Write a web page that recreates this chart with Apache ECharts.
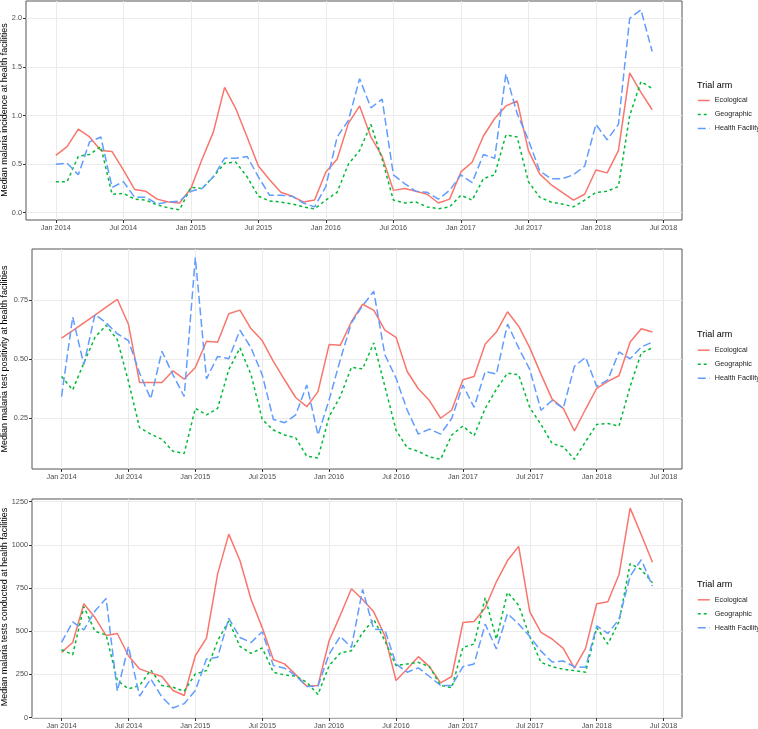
<!DOCTYPE html>
<html><head><meta charset="utf-8">
<script src="https://cdn.jsdelivr.net/npm/echarts@6/dist/echarts.min.js"></script>
<style>html,body{margin:0;padding:0;background:#fff}#c{width:758px;height:729px}</style>
</head><body><div id="c"></div>
<script>
// ---- data ----
const months = ['2014-01','2014-02','2014-03','2014-04','2014-05','2014-06','2014-07','2014-08','2014-09','2014-10','2014-11','2014-12',
  '2015-01','2015-02','2015-03','2015-04','2015-05','2015-06','2015-07','2015-08','2015-09','2015-10','2015-11','2015-12',
  '2016-01','2016-02','2016-03','2016-04','2016-05','2016-06','2016-07','2016-08','2016-09','2016-10','2016-11','2016-12',
  '2017-01','2017-02','2017-03','2017-04','2017-05','2017-06','2017-07','2017-08','2017-09','2017-10','2017-11','2017-12',
  '2018-01','2018-02','2018-03','2018-04','2018-05','2018-06'];
const xTickLabels = ['Jan 2014','Jul 2014','Jan 2015','Jul 2015','Jan 2016','Jul 2016','Jan 2017','Jul 2017','Jan 2018','Jul 2018'];
const arms = ['Ecological','Geographic','Health Facility'];
const yTitles = ['Median malaria incidence at health facilities',
                 'Median malaria test positivity at health facilities',
                 'Median malaria tests conducted at health facilities'];

const incidenceEcological = [0.59,0.68,0.86,0.78,0.64,0.63,0.44,0.24,0.22,0.14,0.11,0.10,0.25,0.55,0.83,1.29,1.07,0.78,0.48,0.34,0.21,0.17,0.11,0.13,0.42,0.55,0.92,1.10,0.78,0.58,0.23,0.25,0.22,0.19,0.10,0.14,0.42,0.52,0.79,0.97,1.10,1.15,0.64,0.40,0.29,0.21,0.13,0.19,0.44,0.41,0.64,1.44,1.24,1.06];
const incidenceGeographic = [0.32,0.32,0.58,0.60,0.68,0.19,0.20,0.14,0.13,0.08,0.05,0.03,0.26,0.25,0.37,0.51,0.52,0.37,0.17,0.12,0.11,0.09,0.06,0.04,0.13,0.21,0.50,0.64,0.91,0.55,0.13,0.10,0.11,0.06,0.04,0.06,0.18,0.13,0.35,0.39,0.80,0.78,0.32,0.16,0.11,0.09,0.06,0.13,0.21,0.22,0.27,1.00,1.35,1.28];
const incidenceHealthFacility = [0.50,0.51,0.39,0.73,0.78,0.26,0.32,0.16,0.16,0.09,0.11,0.12,0.22,0.25,0.37,0.56,0.56,0.58,0.37,0.18,0.18,0.17,0.10,0.06,0.27,0.78,0.95,1.38,1.08,1.17,0.39,0.30,0.22,0.21,0.14,0.23,0.39,0.31,0.60,0.56,1.43,1.02,0.75,0.43,0.35,0.35,0.39,0.48,0.91,0.75,0.91,2.00,2.09,1.66];

const positivityEcological = [0.588,0.62,0.653,0.686,0.72,0.753,0.647,0.40,0.40,0.40,0.45,0.415,0.464,0.575,0.571,0.692,0.707,0.628,0.578,0.49,0.412,0.337,0.298,0.362,0.561,0.558,0.658,0.732,0.707,0.622,0.592,0.447,0.374,0.324,0.249,0.284,0.412,0.426,0.564,0.614,0.70,0.639,0.547,0.436,0.33,0.291,0.195,0.287,0.376,0.405,0.429,0.572,0.628,0.614];
const positivityGeographic = [0.426,0.369,0.483,0.592,0.643,0.582,0.405,0.209,0.182,0.16,0.109,0.10,0.291,0.263,0.291,0.455,0.547,0.433,0.244,0.199,0.178,0.166,0.088,0.081,0.256,0.341,0.465,0.458,0.568,0.384,0.199,0.124,0.109,0.085,0.075,0.178,0.216,0.175,0.291,0.372,0.44,0.433,0.294,0.223,0.142,0.128,0.075,0.15,0.223,0.227,0.216,0.384,0.526,0.547];
const positivityHealthFacility = [0.341,0.678,0.476,0.689,0.653,0.607,0.578,0.44,0.331,0.533,0.433,0.341,0.93,0.416,0.511,0.501,0.622,0.547,0.433,0.244,0.23,0.263,0.39,0.178,0.327,0.497,0.653,0.726,0.787,0.518,0.419,0.284,0.182,0.203,0.182,0.249,0.39,0.295,0.447,0.436,0.648,0.547,0.455,0.283,0.324,0.291,0.469,0.507,0.384,0.412,0.53,0.501,0.551,0.572];

const testsEcological = [378,435,659,579,475,487,358,282,259,238,157,128,358,460,832,1062,909,684,521,335,311,249,182,186,445,592,746,684,612,473,215,282,353,295,201,238,550,556,636,786,909,991,612,493,455,401,286,401,659,671,828,1212,1058,899];
const testsGeographic = [393,364,642,500,478,215,167,186,276,186,176,153,253,272,445,560,412,372,403,263,247,240,205,134,301,374,387,490,569,445,301,311,320,295,186,173,406,426,694,454,725,650,468,320,295,280,272,263,521,426,556,891,857,780];
const testsHealthFacility = [435,554,508,617,690,153,412,125,224,119,56,81,157,339,349,575,464,435,497,301,286,243,180,182,368,470,406,742,512,508,311,263,288,238,186,186,295,311,541,397,602,541,470,385,322,328,295,291,531,487,569,819,914,761];

const yTicks = [[0,0.5,1,1.5,2],[0.25,0.5,0.75],[0,250,500,750,1000,1250]];
const yMinor = [[0.25,0.75,1.25,1.75],[0.125,0.375,0.625,0.875],[125,375,625,875,1125]];
const yDecimals = [1,2,0];

// ---- styling / layout ----
const FONT = '"Liberation Sans", Arial, sans-serif';
const colors = ['#F8766D','#00BA38','#619CFF'];
const dashes = ['solid',[3,3],[8,3.5]];
const grids = [
  {left:26, top:1, width:656, height:219},
  {left:32, top:249, width:650, height:220},
  {left:32, top:499, width:650, height:220}
];
const yRanges = [[-0.075,2.18],[0.034,0.966],[-2,1265]];
const xRange = [-2.65, 55.65];
const legendTop = [97, 346.7, 596.3];
const legendTitleY = [86.7, 336, 586];
const yTitleY = [110, 359, 607];

const xTickPos = xTickLabels.map(l => {
  const p = l.split(' ');
  return (parseInt(p[1]) - 2014) * 12 + (p[0] === 'Jul' ? 6 : 0);
});
const xMinorPos = xTickPos.slice(0, -1).map(v => v + 3);

const panels = [
  [incidenceEcological, incidenceGeographic, incidenceHealthFacility],
  [positivityEcological, positivityGeographic, positivityHealthFacility],
  [testsEcological, testsGeographic, testsHealthFacility]
];

const xAxes = [], yAxes = [], series = [], legends = [], graphics = [];
grids.forEach((g, p) => {
  xAxes.push({
    type:'value', gridIndex:p, min:xRange[0], max:xRange[1], position:'bottom',
    axisLine:{show:false, onZero:false},
    axisTick:{show:true, length:3, customValues:xTickPos, lineStyle:{color:'#333', width:1}},
    axisLabel:{show:true, customValues:xTickPos, margin:4, fontSize:7.3, color:'#4d4d4d', fontFamily:FONT,
      formatter: v => xTickLabels[xTickPos.indexOf(Math.round(v))] || ''},
    splitLine:{show:true, lineStyle:{color:'#ebebeb', width:1}}
  });
  xAxes.push({
    type:'value', gridIndex:p, min:xRange[0], max:xRange[1], position:'bottom',
    axisLine:{show:false, onZero:false}, axisTick:{show:false, customValues:xMinorPos}, axisLabel:{show:false},
    splitLine:{show:true, lineStyle:{color:'#f5f5f5', width:1}}, z:-1
  });
  yAxes.push({
    type:'value', gridIndex:p, min:yRanges[p][0], max:yRanges[p][1], position:'left',
    axisLine:{show:false, onZero:false},
    axisTick:{show:true, length:3, customValues:yTicks[p], lineStyle:{color:'#333', width:1}},
    axisLabel:{show:true, customValues:yTicks[p], margin:4, fontSize:7.3, color:'#4d4d4d', fontFamily:FONT,
      formatter: v => Number(v).toFixed(yDecimals[p])},
    splitLine:{show:true, lineStyle:{color:'#ebebeb', width:1}}
  });
  yAxes.push({
    type:'value', gridIndex:p, min:yRanges[p][0], max:yRanges[p][1], position:'left',
    axisLine:{show:false, onZero:false}, axisTick:{show:false, customValues:yMinor[p]}, axisLabel:{show:false},
    splitLine:{show:true, lineStyle:{color:'#f5f5f5', width:1}}, z:-1
  });
  panels[p].forEach((vals, k) => {
    series.push({
      type:'line', name:arms[k], xAxisIndex:2*p, yAxisIndex:2*p,
      data: vals.map((v, i) => [i, v]),
      showSymbol:false, symbol:'none', silent:true,
      lineStyle:{color:colors[k], width:1.5, type:dashes[k]},
      itemStyle:{color:colors[k]}, z:3+k
    });
  });
  legends.push({
    orient:'vertical', left:697, top:legendTop[p], padding:0,
    itemWidth:12, itemHeight:8, itemGap:7, selectedMode:false,
    itemStyle:{opacity:0},
    textStyle:{fontSize:7.2, color:'#1a1a1a', fontFamily:FONT},
    data: arms.map((a, k) => ({name:a, itemStyle:{opacity:0}, lineStyle:{color:colors[k], width:1.5, type:dashes[k], opacity:1}}))
  });
  graphics.push({
    type:'text', left:697, top:legendTitleY[p]-5.5,
    style:{text:'Trial arm', fontSize:9, fill:'#000', fontFamily:FONT}
  });
  graphics.push({
    type:'text', x:5, y:yTitleY[p], rotation:Math.PI/2,
    style:{text:yTitles[p], fontSize:9, fill:'#000', fontFamily:FONT, align:'center', verticalAlign:'middle'}
  });
});

const chart = echarts.init(document.getElementById('c'), null, {renderer:'canvas'});
chart.setOption({
  animation:false,
  backgroundColor:'#fff',
  grid: grids.map(g => Object.assign({show:true, borderColor:'#555', borderWidth:1, backgroundColor:'#fff', containLabel:false}, g)),
  xAxis:xAxes, yAxis:yAxes, series:series, legend:legends, graphic:graphics
});
</script></body></html>
